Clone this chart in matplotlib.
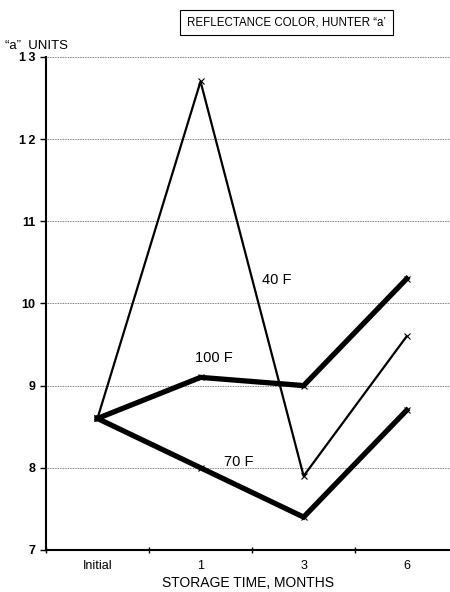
import numpy as np
import matplotlib
matplotlib.use("Agg")
import matplotlib.pyplot as plt

plt.rcParams['font.family'] = ['Liberation Sans', 'DejaVu Sans']

mesi = ["Initial", "1", "3", "6"]
f40 = [8.6, 12.7, 7.9, 9.6]
f100 = [8.6, 9.1, 9.0, 10.3]
f70 = [8.6, 8.0, 7.4, 8.7]
y_ticks = [7, 8, 9, 10, 11, 12, 13]

x = np.arange(len(mesi)) + 0.5

fig = plt.figure(figsize=(4.5, 5.92), dpi=100)
ax = fig.add_axes([0.102, 0.071, 0.898, 0.833])

for y in y_ticks[1:]:
    ax.axhline(y, color="#555555", linestyle=(0, (1, 1)), linewidth=0.6, zorder=1)

ax.plot(x, f40, color="black", linewidth=1.6, marker="x", markersize=5, markeredgewidth=0.8, zorder=3)
ax.plot(x, f100, color="black", linewidth=3.8, marker="x", markersize=5, markeredgewidth=0.8,
        solid_joinstyle="miter", zorder=3)
ax.plot(x, f70, color="black", linewidth=3.8, marker="x", markersize=5, markeredgewidth=0.8,
        solid_joinstyle="miter", zorder=3)

ax.text(2.1, 10.2, "40 F", fontsize=10.5, ha="left", va="bottom")
ax.text(1.45, 9.25, "100 F", fontsize=10.5, ha="left", va="bottom")
ax.text(1.73, 7.98, "70 F", fontsize=10.5, ha="left", va="bottom")

ax.set_xlim(0, 3.92)
ax.set_ylim(7, 13)
ax.set_yticks(y_ticks)
ax.set_yticklabels([str(v) if v < 12 else str(v)[0] + "\u2009" + str(v)[1] for v in y_ticks],
                   fontsize=9, fontweight="bold")
ax.set_xticks(x)
ax.set_xticklabels(mesi, fontsize=9)
ax.set_xticks([0, 1, 2, 3], minor=True)
ax.tick_params(axis="x", which="major", length=0, pad=7)
ax.tick_params(axis="x", which="minor", length=4, direction="inout", width=1)
ax.tick_params(axis="y", length=4, width=1, direction="out")

ax.spines["top"].set_visible(False)
ax.spines["right"].set_visible(False)
ax.spines["left"].set_linewidth(1.5)
ax.spines["bottom"].set_linewidth(1.5)

ax.set_xlabel("STORAGE TIME, MONTHS", fontsize=10, labelpad=3)
fig.text(0.012, 0.912, "\u201ca\u201d  UNITS", fontsize=9.5, ha="left", va="bottom")
fig.text(0.415, 0.962, "REFLECTANCE COLOR, HUNTER \u201ca\u2019", fontsize=8.3, ha="left", va="center",
         bbox=dict(boxstyle="square,pad=0.6", facecolor="white", edgecolor="black", linewidth=0.8))

fig.savefig("out.png", dpi=100)
